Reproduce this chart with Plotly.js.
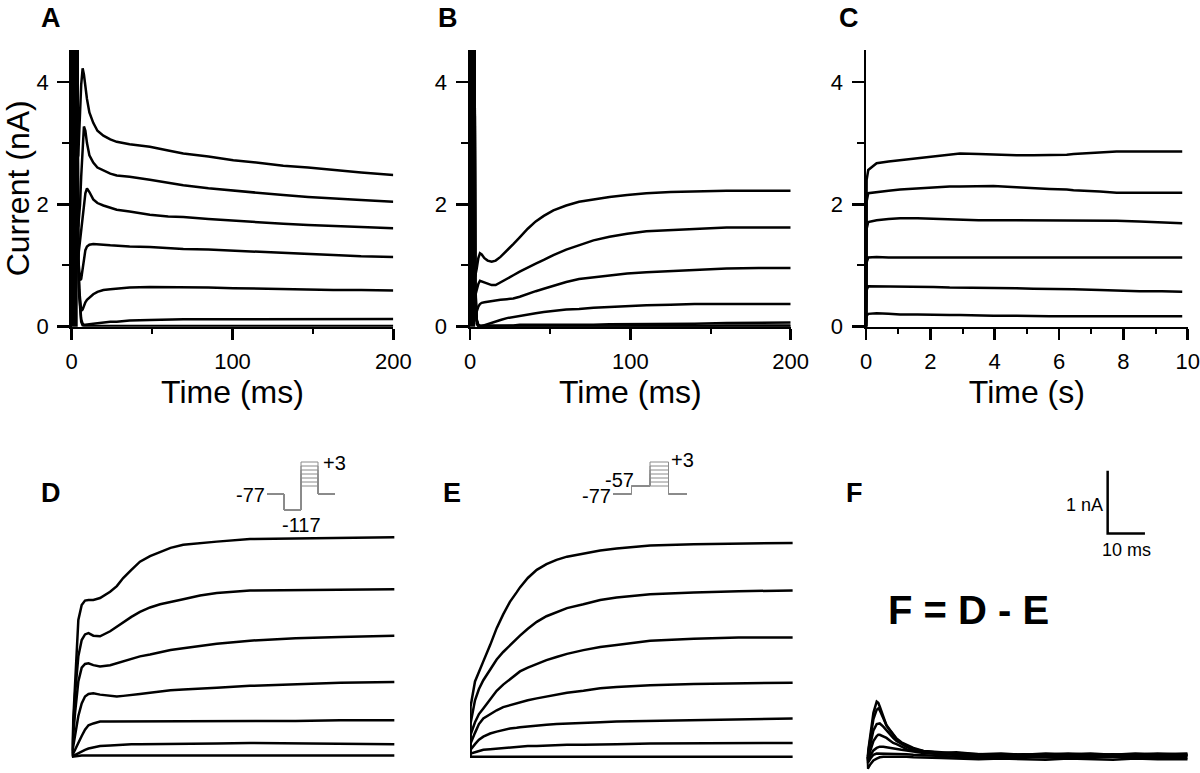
<!DOCTYPE html>
<html><head><meta charset="utf-8">
<script src="https://cdn.plot.ly/plotly-3.0.1.min.js"></script>
<style>html,body{margin:0;padding:0;background:#fff}#chart{width:1200px;height:773px}</style>
</head><body><div id="chart"></div>
<script>
// ---------- Panel A (ms, nA) ----------
const panelA_artifactT = [0, 0.2, 0.45, 0.7, 0.95, 1.2, 1.45, 1.7, 1.95, 2.2, 2.45, 2.7, 2.95, 3.2];
const panelA_artifactI = [0, 12, -1, 12, -1, 12, -1, 12, -1, 12, -1, 12, -1, 12];
const panelA_time = [3.3, 3.6, 4.1, 4.7, 5.2, 5.9, 6.8, 7.6, 8.5, 9.5, 11, 13.4, 16, 19.7, 24, 28, 36, 48.6, 60, 69.4, 85, 100.5, 116, 131.6, 147, 162.7, 180, 200];
const panelA_sweeps = [
  [6, 2.75, 2.8, 3.1, 3.5, 3.95, 4.22, 4.12, 3.92, 3.72, 3.5, 3.33, 3.2, 3.12, 3.06, 3.02, 2.98, 2.94, 2.88, 2.83, 2.78, 2.72, 2.68, 2.63, 2.6, 2.56, 2.52, 2.48],
  [6, 1.6, 1.65, 1.8, 2.0, 2.45, 3.0, 3.27, 3.2, 3.0, 2.8, 2.68, 2.6, 2.55, 2.5, 2.47, 2.45, 2.4, 2.35, 2.31, 2.26, 2.22, 2.19, 2.15, 2.12, 2.1, 2.07, 2.04],
  [6, 1.1, 1.15, 1.3, 1.38, 1.55, 1.8, 2.02, 2.18, 2.26, 2.2, 2.08, 2.02, 1.98, 1.94, 1.91, 1.88, 1.83, 1.8, 1.79, 1.76, 1.73, 1.7, 1.68, 1.66, 1.65, 1.63, 1.61],
  [6, 1.5, 1.1, 0.85, 0.76, 0.78, 0.95, 1.12, 1.25, 1.31, 1.34, 1.35, 1.35, 1.34, 1.33, 1.32, 1.31, 1.3, 1.28, 1.27, 1.26, 1.24, 1.22, 1.2, 1.19, 1.17, 1.15, 1.14],
  [6, 2.2, 1.2, 0.6, 0.38, 0.26, 0.28, 0.34, 0.4, 0.44, 0.48, 0.53, 0.57, 0.6, 0.61, 0.62, 0.64, 0.65, 0.65, 0.65, 0.64, 0.63, 0.62, 0.62, 0.61, 0.6, 0.6, 0.59],
  [6, 2.6, 1.04, 0.55, 0.3, 0.12, 0.05, 0.03, 0.03, 0.03, 0.04, 0.05, 0.06, 0.07, 0.08, 0.08, 0.1, 0.11, 0.12, 0.12, 0.12, 0.12, 0.12, 0.125, 0.125, 0.125, 0.125, 0.125],
  [6, 2.8, 1.04, 0.5, 0.25, 0.08, 0.02, 0.01, 0.01, 0.01, 0.01, 0.01, 0.01, 0.01, 0.01, 0.01, 0.01, 0.01, 0.01, 0.01, 0.01, 0.01, 0.01, 0.01, 0.01, 0.01, 0.01, 0.01]
];

// ---------- Panel B (ms, nA) ----------
const panelB_artifactT = [0, 0.2, 0.45, 0.7, 0.95, 1.2, 1.45, 1.7, 1.95, 2.2, 2.45, 2.7];
const panelB_artifactI = [0, 12, -1, 12, -1, 12, -1, 12, -1, 12, -1, 12];
const panelB_time = [2.8, 3.2, 4.2, 5.2, 6.2, 7.3, 9, 11, 13.5, 16, 19, 23, 27, 31, 36, 41, 46, 52, 60, 68, 77, 87, 98, 110, 125, 140, 160, 180, 200];
const panelB_sweeps = [
  [6, 0.82, 0.95, 1.12, 1.2, 1.18, 1.12, 1.08, 1.06, 1.08, 1.14, 1.24, 1.35, 1.46, 1.6, 1.72, 1.81, 1.9, 1.98, 2.04, 2.08, 2.12, 2.15, 2.18, 2.2, 2.21, 2.22, 2.22, 2.22],
  [6, 0.5, 0.6, 0.7, 0.75, 0.74, 0.72, 0.7, 0.68, 0.68, 0.72, 0.78, 0.84, 0.9, 0.97, 1.03, 1.09, 1.17, 1.26, 1.33, 1.41, 1.47, 1.52, 1.56, 1.58, 1.6, 1.62, 1.62, 1.62],
  [6, 0.2, 0.25, 0.33, 0.37, 0.39, 0.4, 0.41, 0.42, 0.43, 0.44, 0.45, 0.46, 0.49, 0.54, 0.58, 0.62, 0.67, 0.73, 0.78, 0.81, 0.84, 0.87, 0.89, 0.91, 0.93, 0.95, 0.96, 0.96],
  [6, 0.5, 0.05, 0.0, 0.0, 0.01, 0.02, 0.04, 0.06, 0.09, 0.11, 0.14, 0.16, 0.18, 0.2, 0.22, 0.24, 0.26, 0.28, 0.29, 0.31, 0.32, 0.34, 0.35, 0.36, 0.37, 0.37, 0.37, 0.37],
  [6, 0.6, 0.1, 0.02, 0.01, 0.01, 0.01, 0.01, 0.02, 0.02, 0.02, 0.02, 0.02, 0.03, 0.03, 0.03, 0.03, 0.02, 0.02, 0.02, 0.03, 0.04, 0.04, 0.05, 0.05, 0.05, 0.06, 0.06, 0.07],
  [6, 0.7, 0.12, 0.03, 0.02, 0.02, 0.02, 0.02, 0.02, 0.02, 0.01, 0.01, 0.01, 0.01, 0.0, 0.0, 0.0, 0.0, 0.0, 0.0, 0.0, 0.0, 0.0, 0.01, 0.01, 0.01, 0.02, 0.02, 0.02],
  [6, 0.8, 0.1, 0.01, 0.0, 0.0, 0.0, 0.0, 0.0, 0.0, 0.0, 0.0, 0.0, 0.0, 0.0, 0.0, 0.0, 0.0, 0.0, 0.0, 0.0, 0.0, 0.0, 0.0, 0.0, 0.0, 0.0, 0.0, 0.0]
];

// ---------- Panel C (s, nA) ----------
const panelC_time = [0, 0.02, 0.07, 0.33, 0.7, 1.06, 1.6, 2.1, 2.6, 2.92, 3.5, 3.96, 4.68, 5.2, 5.7, 6.24, 6.45, 7.27, 7.79, 8.5, 9.2, 9.83];
const panelC_sweeps = [
  [0, 2.4, 2.56, 2.67, 2.7, 2.72, 2.75, 2.78, 2.81, 2.83, 2.82, 2.81, 2.8, 2.8, 2.8, 2.81, 2.82, 2.85, 2.86, 2.86, 2.86, 2.86],
  [0, 2.05, 2.18, 2.2, 2.22, 2.24, 2.26, 2.28, 2.29, 2.29, 2.3, 2.3, 2.28, 2.26, 2.25, 2.24, 2.23, 2.21, 2.19, 2.19, 2.19, 2.19],
  [0, 1.6, 1.71, 1.74, 1.76, 1.77, 1.77, 1.76, 1.75, 1.75, 1.74, 1.74, 1.74, 1.74, 1.73, 1.73, 1.73, 1.73, 1.73, 1.72, 1.7, 1.69],
  [0, 1.05, 1.13, 1.14, 1.13, 1.13, 1.13, 1.13, 1.13, 1.13, 1.13, 1.13, 1.13, 1.13, 1.13, 1.13, 1.13, 1.13, 1.13, 1.13, 1.13, 1.13],
  [0, 0.6, 0.66, 0.66, 0.66, 0.65, 0.65, 0.65, 0.64, 0.64, 0.64, 0.63, 0.63, 0.62, 0.62, 0.61, 0.61, 0.6, 0.59, 0.58, 0.58, 0.57],
  [0, 0.18, 0.21, 0.22, 0.21, 0.2, 0.2, 0.19, 0.19, 0.19, 0.18, 0.18, 0.18, 0.17, 0.17, 0.17, 0.17, 0.17, 0.17, 0.17, 0.17, 0.17]
];

// ---------- Panel D (ms, nA) ----------
const panelD_time = [0, 0.9, 1.78, 2.68, 3.57, 4.5, 5.8, 7.6, 10.3, 12.1, 13.8, 16, 18.3, 21, 23.7, 26.5, 29.9, 34.4, 38.9, 47.8, 60, 72, 86.5];
const panelD_sweeps = [
  [0.1, 1.2, 2.18, 2.42, 2.49, 2.5, 2.5, 2.53, 2.63, 2.72, 2.85, 2.98, 3.11, 3.2, 3.27, 3.33, 3.38, 3.41, 3.43, 3.47, 3.48, 3.49, 3.5],
  [0.05, 1.0, 1.6, 1.86, 1.95, 1.97, 1.93, 1.92, 2.0, 2.07, 2.15, 2.23, 2.31, 2.38, 2.43, 2.47, 2.51, 2.57, 2.61, 2.65, 2.66, 2.67, 2.67],
  [0.03, 0.7, 1.2, 1.42, 1.48, 1.49, 1.46, 1.44, 1.46, 1.49, 1.52, 1.56, 1.6, 1.63, 1.67, 1.7, 1.73, 1.77, 1.8, 1.85, 1.89, 1.91, 1.93],
  [0.02, 0.35, 0.65, 0.85, 0.96, 1.0, 1.01, 0.99, 0.97, 0.96, 0.97, 0.99, 1.0, 1.02, 1.04, 1.06, 1.07, 1.09, 1.1, 1.13, 1.16, 1.18, 1.19],
  [0, 0.12, 0.22, 0.33, 0.43, 0.5, 0.53, 0.56, 0.56, 0.56, 0.56, 0.56, 0.56, 0.56, 0.56, 0.56, 0.56, 0.56, 0.56, 0.56, 0.57, 0.58, 0.58],
  [0, 0.03, 0.06, 0.09, 0.11, 0.13, 0.15, 0.17, 0.18, 0.19, 0.19, 0.2, 0.2, 0.2, 0.2, 0.21, 0.21, 0.21, 0.21, 0.22, 0.21, 0.2, 0.2],
  [0, 0.01, 0.01, 0.02, 0.02, 0.02, 0.02, 0.02, 0.02, 0.02, 0.02, 0.02, 0.02, 0.02, 0.02, 0.02, 0.02, 0.02, 0.02, 0.02, 0.02, 0.02, 0.02]
];

// ---------- Panel E (ms, nA) ----------
const panelE_time = [0, 0.15, 1.34, 2.4, 3.57, 5.4, 7.15, 8.9, 10.7, 12.5, 13.4, 15.5, 17.9, 20.5, 23.2, 26, 30.4, 34.9, 39.3, 48.3, 60, 72, 86.5];
const panelE_sweeps = [
  [0, 0.8, 1.2, 1.36, 1.52, 1.78, 2.05, 2.27, 2.47, 2.62, 2.7, 2.85, 2.98, 3.07, 3.14, 3.19, 3.24, 3.29, 3.32, 3.37, 3.39, 3.4, 3.41],
  [0, 0.53, 0.9, 1.08, 1.22, 1.4, 1.55, 1.67, 1.78, 1.88, 1.93, 2.04, 2.15, 2.24, 2.31, 2.37, 2.43, 2.5, 2.54, 2.59, 2.62, 2.64, 2.65],
  [0, 0.35, 0.55, 0.68, 0.77, 0.92, 1.05, 1.15, 1.24, 1.32, 1.36, 1.42, 1.48, 1.54, 1.59, 1.64, 1.7, 1.75, 1.78, 1.85, 1.88, 1.9, 1.9],
  [0, 0.21, 0.38, 0.52, 0.61, 0.68, 0.74, 0.79, 0.82, 0.85, 0.87, 0.9, 0.93, 0.96, 0.99, 1.02, 1.05, 1.09, 1.11, 1.14, 1.16, 1.17, 1.18],
  [0, 0.11, 0.2, 0.27, 0.32, 0.37, 0.4, 0.43, 0.45, 0.46, 0.47, 0.48, 0.5, 0.51, 0.52, 0.53, 0.54, 0.55, 0.56, 0.57, 0.59, 0.6, 0.61],
  [0, 0.05, 0.07, 0.09, 0.11, 0.12, 0.13, 0.14, 0.15, 0.16, 0.16, 0.17, 0.17, 0.18, 0.18, 0.19, 0.19, 0.2, 0.2, 0.21, 0.21, 0.22, 0.22],
  [0, 0, 0, 0, 0, 0, 0, 0, 0, 0, 0, 0, 0, 0, 0, 0, 0, 0, 0, 0, 0, 0, 0]
];

// ---------- Panel F = D - E (ms, nA) ----------
const panelF_time = [0, 0.3, 1.0, 1.8, 2.68, 3.1, 3.5, 4.45, 5.3, 6.2, 7.1, 8, 9.3, 10.7, 12.5, 15.2, 20, 24, 30, 36, 42, 48, 54, 60, 66, 72, 78, 86];
const panelF_sweeps = [
  [0, 0.05, 0.35, 0.7, 0.88, 0.86, 0.8, 0.64, 0.5, 0.42, 0.35, 0.28, 0.21, 0.16, 0.11, 0.08, 0.06, 0.07, 0.04, 0.05, 0.03, 0.05, 0.04, 0.05, 0.03, 0.05, 0.04, 0.05],
  [0, 0.03, 0.3, 0.6, 0.75, 0.77, 0.74, 0.62, 0.5, 0.43, 0.36, 0.29, 0.23, 0.19, 0.14, 0.09, 0.06, 0.05, 0.04, 0.03, 0.04, 0.03, 0.05, 0.03, 0.04, 0.03, 0.05, 0.03],
  [0, 0.0, 0.2, 0.42, 0.52, 0.53, 0.53, 0.48, 0.42, 0.36, 0.3, 0.25, 0.2, 0.16, 0.12, 0.09, 0.07, 0.05, 0.03, 0.02, 0.03, 0.02, 0.03, 0.02, 0.02, 0.03, 0.02, 0.03],
  [0, -0.03, 0.1, 0.25, 0.33, 0.35, 0.35, 0.33, 0.3, 0.26, 0.22, 0.2, 0.16, 0.12, 0.1, 0.07, 0.05, 0.04, 0.02, 0.01, 0.02, 0.01, 0.02, 0.01, 0.02, 0.01, 0.01, 0.02],
  [0, -0.06, 0.02, 0.1, 0.14, 0.15, 0.16, 0.16, 0.15, 0.15, 0.14, 0.13, 0.11, 0.1, 0.08, 0.06, 0.04, 0.03, 0.01, 0.0, 0.01, 0.0, 0.01, 0.0, 0.01, 0.0, 0.0, 0.01],
  [0, -0.1, -0.03, 0.03, 0.05, 0.05, 0.05, 0.05, 0.05, 0.05, 0.05, 0.04, 0.04, 0.04, 0.03, 0.02, 0.01, 0.0, -0.01, -0.02, 0.0, -0.01, -0.02, -0.01, 0.0, -0.02, -0.01, -0.02],
  [0, -0.19, -0.12, -0.06, -0.03, -0.02, -0.01, 0.0, 0.0, 0.01, 0.0, 0.0, 0.0, 0.0, -0.01, -0.01, -0.02, -0.03, -0.04, -0.03, -0.04, -0.05, -0.03, -0.04, -0.05, -0.03, -0.04, -0.04]
];

// scale bar for D/E/F (1 nA, 10 ms)
const scaleBarT = [64.6, 64.6, 74.6];
const scaleBarI = [4.56, 3.56, 3.56];

// voltage protocols (mV), insets of D and E
const holdingV = -77;
const prepulseD = -117;
const prepulseE = -57;
const testV = [-57, -47, -37, -27, -17, -7, 3];
const protocolPhase = [0, 1, 1, 2, 2, 3, 3, 4];

// ---------- build ----------
const FONT = 'Liberation Sans, Arial, Helvetica, sans-serif';
const LW = 2.5;
const traces = [];
function addSweeps(time, sweeps, xa, ya, w) {
  sweeps.forEach(s => traces.push({x: time, y: s, xaxis: xa, yaxis: ya, type: 'scatter', mode: 'lines',
    line: {color: '#000', width: w}, hoverinfo: 'skip', showlegend: false}));
}
function addLine(x, y, xa, ya, color, w) {
  traces.push({x: x, y: y, xaxis: xa, yaxis: ya, type: 'scatter', mode: 'lines',
    line: {color: color, width: w}, hoverinfo: 'skip', showlegend: false});
}
addLine(panelA_artifactT, panelA_artifactI, 'x', 'y', '#000', LW);
addSweeps(panelA_time, panelA_sweeps, 'x', 'y', LW);
addLine(panelB_artifactT, panelB_artifactI, 'x2', 'y2', '#000', LW);
addSweeps(panelB_time, panelB_sweeps, 'x2', 'y2', LW);
addSweeps(panelC_time, panelC_sweeps, 'x3', 'y3', LW);
addSweeps(panelD_time, panelD_sweeps, 'x4', 'y4', LW);
addSweeps(panelE_time, panelE_sweeps, 'x5', 'y5', LW);
addSweeps(panelF_time, panelF_sweeps, 'x6', 'y6', LW);
addLine(scaleBarT, scaleBarI, 'x6', 'y6', '#000', 2.5);
testV.forEach(v => {
  addLine(protocolPhase, [holdingV, holdingV, prepulseD, prepulseD, v, v, holdingV, holdingV], 'x7', 'y7', '#8a8a8a', 1);
  addLine(protocolPhase, [holdingV, holdingV, prepulseE, prepulseE, v, v, holdingV, holdingV], 'x8', 'y8', '#8a8a8a', 1);
});

const W = 1200, H = 773;
const px = v => v / W, py = v => 1 - v / H;
const topY = [py(326.7), py(50)];
function realX(dom, range, dtick, minor, title) {
  return {domain: dom, range: range, showline: true, linecolor: '#000', linewidth: 2.5,
    ticks: 'outside', ticklen: 11, tickwidth: 2.5, tickcolor: '#000', dtick: dtick, tick0: 0,
    minor: {dtick: minor, tick0: 0, ticks: 'outside', ticklen: 5, tickwidth: 2, tickcolor: '#000', showgrid: false},
    showgrid: false, zeroline: false, tickfont: {family: FONT, size: 22, color: '#000'},
    ticklabelstandoff: 2,
    title: {text: title, font: {family: FONT, size: 32, color: '#000'}, standoff: 3}, fixedrange: true};
}
function realY(title) {
  return {domain: topY, range: [0, 4.52], showline: true, linecolor: '#000', linewidth: 2.5,
    ticks: 'outside', ticklen: 12, tickwidth: 2.5, tickcolor: '#000', dtick: 2, tick0: 0,
    minor: {dtick: 1, tick0: 0, ticks: 'outside', ticklen: 7, tickwidth: 2, tickcolor: '#000', showgrid: false},
    showgrid: false, zeroline: false, tickfont: {family: FONT, size: 22, color: '#000'},
    ticklabelstandoff: 4,
    title: title ? {text: title, font: {family: FONT, size: 32, color: '#000'}, standoff: 4} : {text: ''}, fixedrange: true};
}
function hidden(dom, range) {
  return {domain: dom, range: range, visible: false, showgrid: false, zeroline: false, fixedrange: true};
}
const lowY = [0, py(465)];
const traceRange = [-0.26, 4.652];

const layout = {
  width: W, height: H, margin: {l: 0, r: 0, t: 0, b: 0}, paper_bgcolor: '#fff', plot_bgcolor: 'rgba(0,0,0,0)',
  showlegend: false, font: {family: FONT, color: '#000'},
  xaxis: Object.assign(realX([px(71.7), px(393.3)], [0, 200], 100, 50, 'Time (ms)'), {anchor: 'y'}),
  yaxis: Object.assign(realY('Current (nA)'), {anchor: 'x'}),
  xaxis2: Object.assign(realX([px(470), px(790.7)], [0, 200], 100, 50, 'Time (ms)'), {anchor: 'y2'}),
  yaxis2: Object.assign(realY(''), {anchor: 'x2'}),
  xaxis3: Object.assign(realX([px(866), px(1187.7)], [0, 10], 2, 1, 'Time (s)'), {anchor: 'y3'}),
  yaxis3: Object.assign(realY(''), {anchor: 'x3'}),
  xaxis4: Object.assign(hidden([px(71.7), px(400)], [0, 88.02]), {anchor: 'y4'}),
  yaxis4: Object.assign(hidden(lowY, traceRange), {anchor: 'x4'}),
  xaxis5: Object.assign(hidden([px(470), px(798.3)], [0, 88.02]), {anchor: 'y5'}),
  yaxis5: Object.assign(hidden(lowY, traceRange), {anchor: 'x5'}),
  xaxis6: Object.assign(hidden([px(866.7), px(1195)], [0, 88.02]), {anchor: 'y6'}),
  yaxis6: Object.assign(hidden(lowY, traceRange), {anchor: 'x6'}),
  xaxis7: Object.assign(hidden([px(267), px(335)], [0, 4]), {anchor: 'y7'}),
  yaxis7: Object.assign(hidden([py(530), py(450)], [-167, 33]), {anchor: 'x7'}),
  xaxis8: Object.assign(hidden([px(613), px(687)], [0, 4]), {anchor: 'y8'}),
  yaxis8: Object.assign(hidden([py(530), py(450)], [-167, 33]), {anchor: 'x8'}),
  annotations: []
};

const ann = layout.annotations;
function letter(t, x, y) {
  ann.push({text: '<b>' + t + '</b>', x: px(x), y: py(y), xref: 'paper', yref: 'paper', showarrow: false,
    xanchor: 'center', yanchor: 'middle', font: {family: FONT, size: 27, color: '#000'}});
}
letter('A', 51, 18); letter('B', 448, 18); letter('C', 849, 18);
letter('D', 51, 493); letter('E', 452, 493); letter('F', 854, 493);

function lab(t, x, y, xa, ya, xanchor, size) {
  ann.push({text: t, x: x, y: y, xref: xa, yref: ya, showarrow: false, xanchor: xanchor, yanchor: 'middle',
    font: {family: FONT, size: size, color: '#000'}});
}
lab(String(holdingV), 0, -79, 'x7', 'y7', 'right', 20);
lab(String(prepulseD), 2.0, -155, 'x7', 'y7', 'center', 20);
lab('+3', 3.15, 1, 'x7', 'y7', 'left', 20);
lab(String(holdingV), 0, -81, 'x8', 'y8', 'right', 20);
lab(String(prepulseE), 1.25, -42, 'x8', 'y8', 'right', 20);
lab('+3', 3.05, 8, 'x8', 'y8', 'left', 20);
lab('1 nA', 64.0, 4.01, 'x6', 'y6', 'right', 18);
lab('10 ms', 69.6, 3.3, 'x6', 'y6', 'center', 18);
ann.push({text: '<b>F = D - E</b>', x: px(968), y: py(610), xref: 'paper', yref: 'paper', showarrow: false,
  xanchor: 'center', yanchor: 'middle', font: {family: FONT, size: 40, color: '#000'}});

Plotly.newPlot('chart', traces, layout, {displayModeBar: false, staticPlot: true});
</script></body></html>
